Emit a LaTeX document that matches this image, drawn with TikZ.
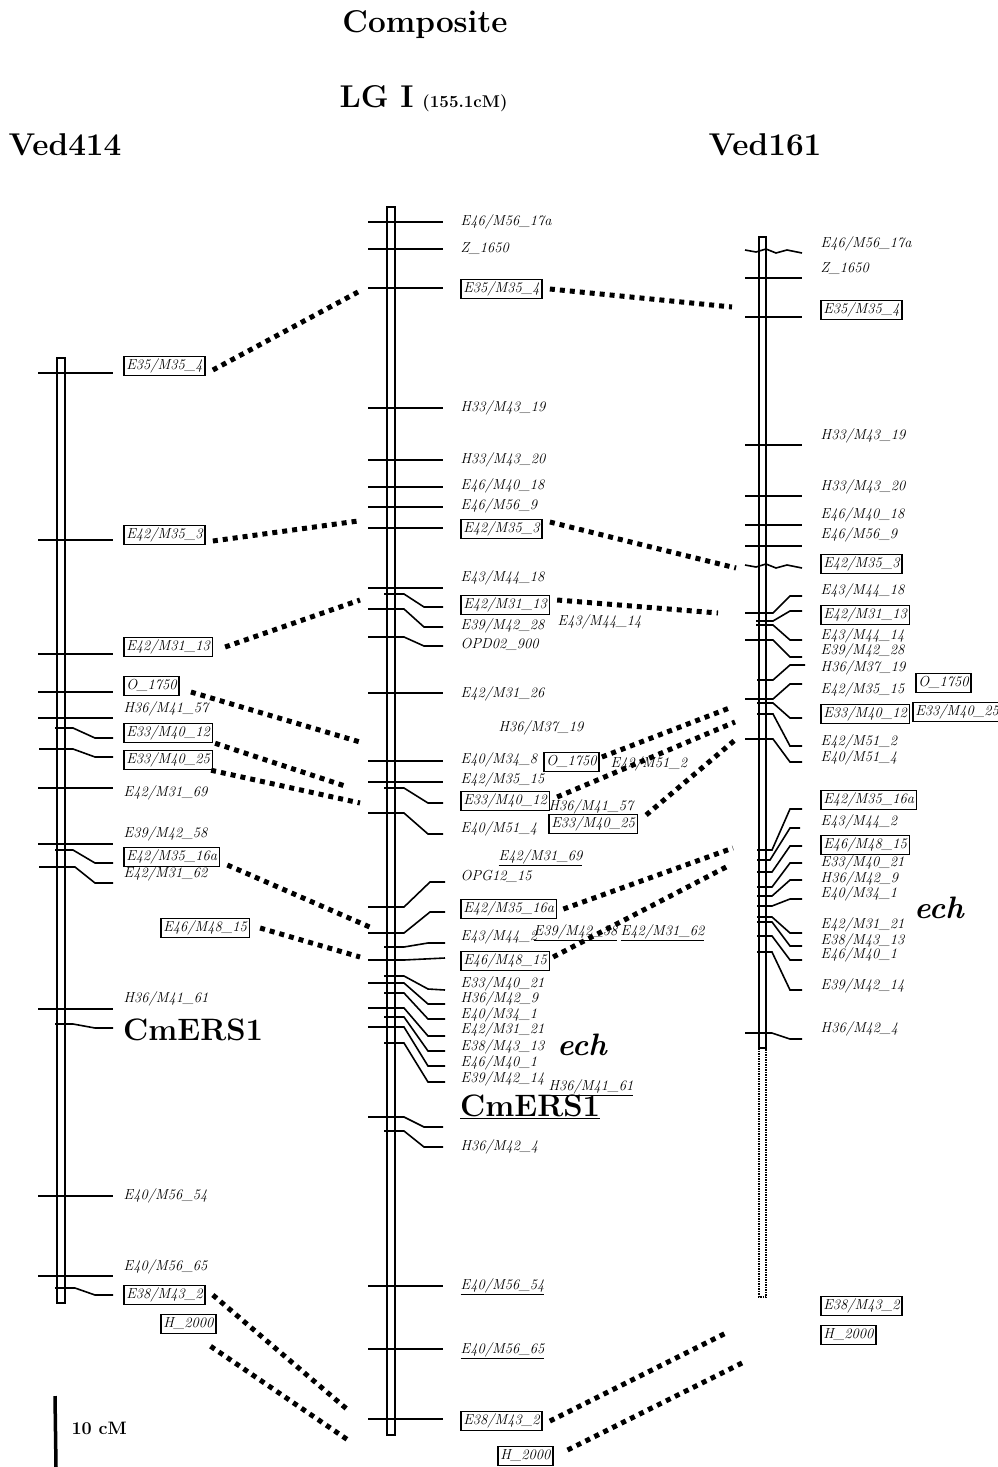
\documentclass[tikz,border=0pt]{standalone}
\usepackage{tikz}

\begin{document}
\begin{tikzpicture}[x=1pt,y=-1pt,
  mk/.style={anchor=west,inner sep=2.5pt,text height=10.5pt,text depth=3.5pt,
    font=\fontsize{14.5}{16}\selectfont\itshape},
  boxed/.style={mk,draw,line width=1.5pt},
  tick/.style={line width=1.6pt},
  chrom/.style={line width=1.5pt},
  ttl/.style={font=\fontsize{31.5}{34}\selectfont\bfseries},
  gene/.style={anchor=west,inner sep=2pt,font=\fontsize{31}{34}\selectfont\bfseries},
  link/.style={line width=5pt,dash pattern=on 5pt off 5pt}]
  \useasboundingbox (0,0) rectangle (997,1467);

  % titles
  \node[ttl] (comp) at (425,25) {Composite};
  \node[ttl,anchor=west] (lg) at (336,97) {LG I};
  \node[anchor=base west,inner sep=0pt,font=\fontsize{17}{19}\selectfont\bfseries] (len) at ([xshift=5pt]lg.base east) {(155.1cM)};
  \node[ttl] (v414) at (65,145) {Ved414};
  \node[ttl] (v161) at (765,145) {Ved161};

  % Ved414
  \draw[chrom] (57,358) rectangle (65,1303);
  \draw[tick] (38,373) -- (113,373);
  \draw[tick] (38,540) -- (113,540);
  \draw[tick] (38,654) -- (113,654);
  \draw[tick] (38,692) -- (113,692);
  \draw[tick] (38,718) -- (113,718);
  \draw[tick] (55,728) -- (73,728) -- (95,738) -- (113,738);
  \draw[tick] (39,749) -- (73,749) -- (95,757) -- (113,757);
  \draw[tick] (38,788) -- (113,788);
  \draw[tick] (38,844) -- (113,844);
  \draw[tick] (55,850) -- (73,850) -- (95,863) -- (113,863);
  \draw[tick] (39,867) -- (75,867) -- (95,883) -- (113,883);
  \draw[tick] (38,1009) -- (113,1009);
  \draw[tick] (55,1024) -- (73,1024) -- (95,1028) -- (113,1028);
  \draw[tick] (38,1196) -- (113,1196);
  \draw[tick] (38,1276) -- (113,1276);
  \draw[tick] (55,1288) -- (75,1288) -- (95,1295) -- (113,1295);
  \node[boxed] (la1) at (123,366) {E35/M35\_4};
  \node[boxed] (la2) at (123,535) {E42/M35\_3};
  \node[boxed] (la3) at (123,647) {E42/M31\_13};
  \node[boxed] (la4) at (123,686) {O\_1750};
  \node[mk] (la5) at (121,709) {H36/M41\_57};
  \node[boxed] (la6) at (123,733) {E33/M40\_12};
  \node[boxed] (la7) at (123,760) {E33/M40\_25};
  \node[mk] (la8) at (121,793) {E42/M31\_69};
  \node[mk] (la9) at (121,834) {E39/M42\_58};
  \node[boxed] (la10) at (123,857) {E42/M35\_16a};
  \node[mk] (la11) at (121,874) {E42/M31\_62};
  \node[boxed] (la12) at (160,928) {E46/M48\_15};
  \node[mk] (la13) at (121,999) {H36/M41\_61};
  \node[gene] (la14) at (121,1030) {CmERS1};
  \node[mk] (la15) at (121,1196) {E40/M56\_54};
  \node[mk] (la16) at (121,1267) {E40/M56\_65};
  \node[boxed] (la17) at (123,1295) {E38/M43\_2};
  \node[boxed] (la18) at (160,1324) {H\_2000};

  % composite
  \draw[chrom] (387,207) rectangle (395,1435);
  \draw[tick] (368,222) -- (443,222);
  \draw[tick] (368,249) -- (443,249);
  \draw[tick] (368,288) -- (443,288);
  \draw[tick] (368,408) -- (443,408);
  \draw[tick] (368,460) -- (443,460);
  \draw[tick] (368,487) -- (443,487);
  \draw[tick] (368,507) -- (443,507);
  \draw[tick] (368,528) -- (443,528);
  \draw[tick] (368,588) -- (443,588);
  \draw[tick] (384,594) -- (404,594) -- (424,607) -- (443,607);
  \draw[tick] (368,609) -- (404,609) -- (424,627) -- (443,627);
  \draw[tick] (368,637) -- (404,637) -- (424,646) -- (443,646);
  \draw[tick] (368,693) -- (443,693);
  \draw[tick] (368,761) -- (443,761);
  \draw[tick] (368,782) -- (443,782);
  \draw[tick] (384,788) -- (404,788) -- (428,803) -- (443,803);
  \draw[tick] (368,813) -- (404,813) -- (428,834) -- (443,834);
  \draw[tick] (368,907) -- (404,907) -- (430,882) -- (445,882);
  \draw[tick] (368,933) -- (404,933) -- (430,912) -- (445,912);
  \draw[tick] (384,947) -- (404,947) -- (428,943) -- (445,943);
  \draw[tick] (368,960) -- (404,960) -- (445,958);
  \draw[tick] (384,976) -- (404,976) -- (428,989) -- (445,990);
  \draw[tick] (368,983) -- (404,983) -- (428,1004) -- (445,1004);
  \draw[tick] (384,993) -- (404,993) -- (428,1019) -- (445,1019);
  \draw[tick] (368,1008) -- (404,1008) -- (428,1036) -- (445,1036);
  \draw[tick] (384,1017) -- (404,1017) -- (428,1051) -- (445,1051);
  \draw[tick] (368,1027) -- (404,1027) -- (428,1066) -- (445,1066);
  \draw[tick] (384,1043) -- (404,1043) -- (428,1082) -- (445,1082);
  \draw[tick] (368,1117) -- (404,1117) -- (424,1127) -- (443,1127);
  \draw[tick] (384,1131) -- (404,1131) -- (424,1147) -- (443,1147);
  \draw[tick] (368,1286) -- (443,1286);
  \draw[tick] (368,1349) -- (443,1349);
  \draw[tick] (368,1419) -- (443,1419);
  \node[mk] (mi1) at (458,222) {E46/M56\_17a};
  \node[mk] (mi2) at (458,249) {Z\_1650};
  \node[boxed] (mi3) at (460,289) {E35/M35\_4};
  \node[mk] (mi4) at (458,408) {H33/M43\_19};
  \node[mk] (mi5) at (458,460) {H33/M43\_20};
  \node[mk] (mi6) at (458,486) {E46/M40\_18};
  \node[mk] (mi7) at (458,506) {E46/M56\_9};
  \node[boxed] (mi8) at (460,529) {E42/M35\_3};
  \node[mk] (mi9) at (458,578) {E43/M44\_18};
  \node[boxed] (mi10) at (460,605) {E42/M31\_13};
  \node[mk] (mi11) at (458,626) {E39/M42\_28};
  \node[mk] (mi12) at (458,645) {OPD02\_900};
  \node[mk] (mi13) at (555,622) {E43/M44\_14};
  \node[mk] (mi14) at (458,694) {E42/M31\_26};
  \node[mk] (mi15) at (496,728) {H36/M37\_19};
  \node[mk] (mi16) at (458,760) {E40/M34\_8};
  \node[boxed] (mi17) at (543,762) {O\_1750};
  \node[mk] (mi18) at (608,764) {E42/M51\_2};
  \node[mk] (mi19) at (458,780) {E42/M35\_15};
  \node[boxed] (mi20) at (460,801) {E33/M40\_12};
  \node[mk] (mi21) at (546,807) {\underline{H36/M41\_57}};
  \node[boxed,fill=white] (mi22) at (548,824) {E33/M40\_25};
  \node[mk] (mi23) at (458,829) {E40/M51\_4};
  \node[mk] (mi24) at (496,857) {\underline{E42/M31\_69}};
  \node[mk] (mi25) at (458,877) {OPG12\_15};
  \node[boxed] (mi26) at (460,909) {E42/M35\_16a};
  \node[mk] (mi27) at (458,937) {E43/M44\_2};
  \node[mk] (mi28) at (531,932) {\underline{E39/M42\_58}};
  \node[mk] (mi29) at (618,932) {\underline{E42/M31\_62}};
  \node[boxed] (mi30) at (460,961) {E46/M48\_15};
  \node[mk] (mi31) at (458,984) {E33/M40\_21};
  \node[mk] (mi32) at (458,999) {H36/M42\_9};
  \node[mk] (mi33) at (458,1015) {E40/M34\_1};
  \node[mk] (mi34) at (458,1030) {E42/M31\_21};
  \node[mk] (mi35) at (458,1047) {E38/M43\_13};
  \node[mk] (mi36) at (458,1063) {E46/M40\_1};
  \node[mk] (mi37) at (458,1079) {E39/M42\_14};
  \node[mk] (mi38) at (546,1087) {\underline{H36/M41\_61}};
  \node[gene,font=\fontsize{31}{34}\selectfont\bfseries\itshape] (mi39) at (555,1045) {ech};
  \node[gene] (mi40) at (458,1107) {\underline{CmERS1}};
  \node[mk] (mi41) at (458,1147) {H36/M42\_4};
  \node[mk] (mi42) at (458,1286) {\underline{E40/M56\_54}};
  \node[mk] (mi43) at (458,1350) {\underline{E40/M56\_65}};
  \node[boxed] (mi44) at (460,1421) {E38/M43\_2};
  \node[boxed] (mi45) at (497,1456) {H\_2000};

  % Ved161
  \draw[chrom] (759,237) rectangle (766,1048);
  \draw[chrom,densely dotted] (759,1048) -- (759,1297) -- (766,1297) -- (766,1048);
  \draw[tick] (745,250) -- (756,252) -- (766,249) -- (776,253) -- (787,250) -- (802,253);
  \draw[tick] (745,278) -- (802,278);
  \draw[tick] (745,317) -- (802,317);
  \draw[tick] (745,445) -- (802,445);
  \draw[tick] (745,496) -- (802,496);
  \draw[tick] (745,525) -- (802,525);
  \draw[tick] (745,546) -- (802,546);
  \draw[tick] (745,565) -- (756,567) -- (766,564) -- (776,568) -- (787,565) -- (802,568);
  \draw[tick] (745,613) -- (773,613) -- (790,596) -- (802,596);
  \draw[tick] (756,621) -- (773,621) -- (790,611) -- (802,611);
  \draw[tick] (756,625) -- (773,625) -- (790,640) -- (802,640);
  \draw[tick] (745,640) -- (773,640) -- (790,657) -- (802,657);
  \draw[tick] (757,680) -- (773,680) -- (790,665) -- (805,665);
  \draw[tick] (745,699) -- (773,699) -- (790,684) -- (802,684);
  \draw[tick] (757,703) -- (773,703) -- (790,718) -- (802,718);
  \draw[tick] (757,714) -- (773,714) -- (790,746) -- (802,746);
  \draw[tick] (745,739) -- (773,739) -- (790,762) -- (802,762);
  \draw[tick] (757,850) -- (772,850) -- (790,809) -- (802,809);
  \draw[tick] (757,860) -- (770,860) -- (790,828) -- (800,828);
  \draw[tick] (757,872) -- (772,872) -- (790,846) -- (802,846);
  \draw[tick] (757,887) -- (772,887) -- (790,863) -- (802,863);
  \draw[tick] (757,896) -- (772,896) -- (790,880) -- (802,880);
  \draw[tick] (757,906) -- (772,906) -- (790,899) -- (802,899);
  \draw[tick] (757,917) -- (772,917) -- (790,933) -- (802,933);
  \draw[tick] (757,922) -- (772,922) -- (790,946) -- (802,946);
  \draw[tick] (757,936) -- (772,936) -- (790,960) -- (802,960);
  \draw[tick] (757,952) -- (772,952) -- (790,990) -- (802,990);
  \draw[tick] (745,1033) -- (772,1033) -- (790,1039) -- (802,1039);
  \node[mk] (ri1) at (818,244) {E46/M56\_17a};
  \node[mk] (ri2) at (818,269) {Z\_1650};
  \node[boxed] (ri3) at (820,310) {E35/M35\_4};
  \node[mk] (ri4) at (818,436) {H33/M43\_19};
  \node[mk] (ri5) at (818,487) {H33/M43\_20};
  \node[mk] (ri6) at (818,515) {E46/M40\_18};
  \node[mk] (ri7) at (818,535) {E46/M56\_9};
  \node[boxed] (ri8) at (820,564) {E42/M35\_3};
  \node[mk] (ri9) at (818,591) {E43/M44\_18};
  \node[boxed] (ri10) at (820,615) {E42/M31\_13};
  \node[mk] (ri11) at (818,636) {E43/M44\_14};
  \node[mk] (ri12) at (818,651) {E39/M42\_28};
  \node[mk] (ri13) at (818,668) {H36/M37\_19};
  \node[mk] (ri14) at (818,690) {E42/M35\_15};
  \node[boxed] (ri15) at (820,714) {E33/M40\_12};
  \node[mk] (ri16) at (818,742) {E42/M51\_2};
  \node[mk] (ri17) at (818,758) {E40/M51\_4};
  \node[boxed] (ri18) at (915,683) {O\_1750};
  \node[boxed] (ri19) at (912,712) {E33/M40\_25};
  \node[boxed] (ri20) at (820,800) {E42/M35\_16a};
  \node[mk] (ri21) at (818,822) {E43/M44\_2};
  \node[boxed] (ri22) at (820,845) {E46/M48\_15};
  \node[mk] (ri23) at (818,863) {E33/M40\_21};
  \node[mk] (ri24) at (818,879) {H36/M42\_9};
  \node[mk] (ri25) at (818,894) {E40/M34\_1};
  \node[mk] (ri26) at (818,925) {E42/M31\_21};
  \node[mk] (ri27) at (818,941) {E38/M43\_13};
  \node[mk] (ri28) at (818,955) {E46/M40\_1};
  \node[mk] (ri29) at (818,986) {E39/M42\_14};
  \node[mk] (ri30) at (818,1029) {H36/M42\_4};
  \node[gene,font=\fontsize{31}{34}\selectfont\bfseries\itshape] (ri31) at (912,908) {ech};
  \node[boxed] (ri32) at (820,1306) {E38/M43\_2};
  \node[boxed] (ri33) at (820,1335) {H\_2000};

  % link ends
  \coordinate (c1) at (358,292);
  \coordinate (c2) at (358,521);
  \coordinate (c3) at (360,600);
  \coordinate (c4) at (360,742);
  \coordinate (c5) at (348,787);
  \coordinate (c6) at (360,803);
  \coordinate (c7) at (372,928);
  \coordinate (c8) at (360,957);
  \coordinate (c9) at (348,1410);
  \coordinate (c10) at (348,1440);
  \coordinate (d1) at (732,307);
  \coordinate (d2) at (736,568);
  \coordinate (d3) at (718,613);
  \coordinate (d4) at (732,707);
  \coordinate (d5) at (735,722);
  \coordinate (d6) at (735,740);
  \coordinate (d7) at (733,848);
  \coordinate (d8) at (730,865);
  \coordinate (d9) at (728,1332);
  \coordinate (d10) at (744,1362);

  % links
  \draw[link] ([xshift=7pt,yshift=-4pt]la1.east) -- (c1);
  \draw[link] ([xshift=7pt,yshift=-6pt]la2.east) -- (c2);
  \draw[link] ([xshift=12pt]la3.east) -- (c3);
  \draw[link] ([xshift=11pt,yshift=-6pt]la4.east) -- (c4);
  \draw[link] ([xshift=2pt]la6.south east) -- (c5);
  \draw[link] ([xshift=-2pt]la7.south east) -- (c6);
  \draw[link] ([xshift=7pt,yshift=-8pt]la10.east) -- (c7);
  \draw[link] ([xshift=10pt]la12.east) -- (c8);
  \draw[link] ([xshift=7pt]la17.east) -- (c9);
  \draw[link] ([xshift=-6pt,yshift=-12pt]la18.south east) -- (c10);
  \draw[link] ([xshift=7pt]mi3.east) -- (d1);
  \draw[link] ([xshift=7pt,yshift=7pt]mi8.east) -- (d2);
  \draw[link] ([xshift=7pt,yshift=5pt]mi10.east) -- (d3);
  \draw[link] ([xshift=2pt,yshift=5pt]mi17.east) -- (d4);
  \draw[link] ([xshift=7pt,yshift=4pt]mi20.east) -- (d5);
  \draw[link] ([xshift=8pt,yshift=9pt]mi22.east) -- (d6);
  \draw[link] ([xshift=6pt]mi26.east) -- (d7);
  \draw[link] ([xshift=3pt,yshift=4pt]mi30.east) -- (d8);
  \draw[link] ([xshift=7pt]mi44.east) -- (d9);
  \draw[link] ([xshift=14pt,yshift=6pt]mi45.east) -- (d10);

  % scale
  \coordinate (s0) at (55,1396);
  \coordinate (s1) at (56,1467);
  \draw[line width=3.5pt] (s0) -- (s1);
  \node[anchor=west,font=\fontsize{18}{20}\selectfont\bfseries] (sc) at (68,1428) {10 cM};
\end{tikzpicture}
\end{document}
